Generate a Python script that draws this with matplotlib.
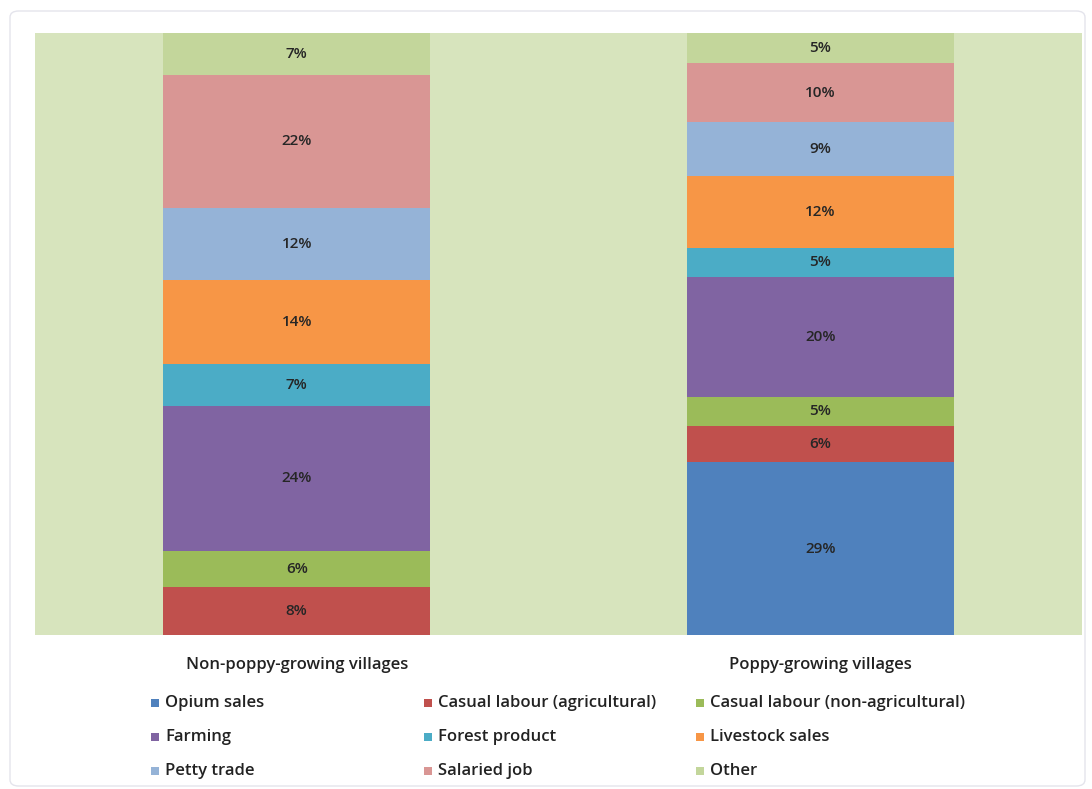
import matplotlib
matplotlib.use("Agg")
import matplotlib.pyplot as plt
from matplotlib.patches import Rectangle, FancyBboxPatch

# Datos del grafico (porcentajes por fuente de ingreso)
grupos = ["Non-poppy-growing villages", "Poppy-growing villages"]
categorias = ["Opium sales", "Casual labour (agricultural)", "Casual labour (non-agricultural)",
              "Farming", "Forest product", "Livestock sales",
              "Petty trade", "Salaried job", "Other"]
no_amapola = [0, 8, 6, 24, 7, 14, 12, 22, 7]
amapola = [29, 6, 5, 20, 5, 12, 9, 10, 5]
colores = ["#4F81BD", "#C0504D", "#9BBB59", "#8064A2", "#4BACC6",
           "#F79646", "#95B3D7", "#D99694", "#C3D69B"]

plt.rcParams["font.family"] = ["Open Sans", "DejaVu Sans"]

fig = plt.figure(figsize=(10.92, 7.89), dpi=100)
ax = fig.add_axes([35 / 1092, 1 - 635 / 789, (1082 - 35) / 1092, (635 - 33) / 789])
ax.set_facecolor("#D7E4BD")

# Grafico apilado al 100%: cada barra se normaliza a su total
total = [sum(no_amapola), sum(amapola)]
posiciones = [0, 1]
base = [0, 0]
for i, cat in enumerate(categorias):
    vals = [no_amapola[i], amapola[i]]
    alturas = [vals[0] * 100 / total[0], vals[1] * 100 / total[1]]
    ax.bar(posiciones, alturas, bottom=base, width=0.51, color=colores[i], label=cat)
    for x, v, h, b in zip(posiciones, vals, alturas, base):
        if v > 0:
            ax.text(x, b + h / 2, f"{v}%", ha="center", va="center",
                    fontsize=11, color="#262626", fontweight="semibold")
    base = [base[0] + alturas[0], base[1] + alturas[1]]

ax.set_xlim(-0.5, 1.5)
ax.set_ylim(0, 100)
ax.set_yticks([])
ax.set_xticks(posiciones)
ax.set_xticklabels(grupos, fontsize=12, fontweight="semibold", color="#222222")
ax.tick_params(axis="x", length=0, pad=16)
for s in ax.spines.values():
    s.set_visible(False)

# Leyenda manual en 3 columnas
col_x = [155, 428, 700]
fila_y = [703, 737, 771]
for i, cat in enumerate(categorias):
    cx = col_x[i % 3]
    cy = fila_y[i // 3]
    fig.patches.append(Rectangle(((cx - 4) / 1092, 1 - (cy + 4) / 789), 8 / 1092, 8 / 789,
                                 transform=fig.transFigure, facecolor=colores[i],
                                 edgecolor="none"))
    fig.text((cx + 10) / 1092, 1 - cy / 789, cat, ha="left", va="center",
             fontsize=12, fontweight="semibold", color="#222222")

# Borde exterior tenue
fig.patches.append(FancyBboxPatch((10 / 1092, 3 / 789), 1075 / 1092, 775 / 789,
                                  boxstyle="round,pad=0,rounding_size=0.008",
                                  transform=fig.transFigure, facecolor="none",
                                  edgecolor="#E4E4EC", linewidth=1))

fig.savefig("out.png", dpi=100)
